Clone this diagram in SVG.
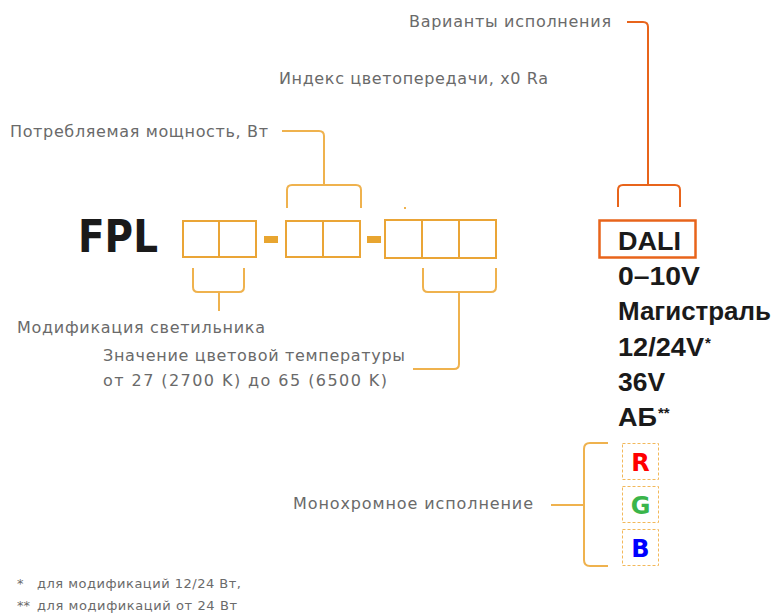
<svg xmlns="http://www.w3.org/2000/svg" width="776" height="613" viewBox="0 0 776 613">
<style>
.lbl{font-family:"DejaVu Sans","Liberation Sans",sans-serif;font-size:16px;fill:#6a6a6a;}
.foot{font-family:"DejaVu Sans","Liberation Sans",sans-serif;font-size:13px;fill:#6a6a6a;}
.big{font-family:"Liberation Sans","DejaVu Sans",sans-serif;font-weight:bold;font-size:25px;fill:#1a1a1a;}
.sup{font-size:15px;}
.rgb{font-family:"DejaVu Sans","Liberation Sans",sans-serif;font-weight:bold;font-size:24px;}
.cell{fill:#fff;stroke:#eaa536;stroke-width:2;}
.cn{fill:none;stroke:#efb24e;stroke-width:2;}
.cr{fill:none;stroke:#e8641b;stroke-width:2;}
.dash{fill:none;stroke:#f2b85a;stroke-width:1;stroke-dasharray:3 2;}
</style>
<rect width="776" height="613" fill="#fff"/>
<g id="title"><text x="78" y="252" font-family="DejaVu Sans, Liberation Sans, sans-serif" font-weight="bold" font-size="44" fill="#1a1a1a" textLength="80" lengthAdjust="spacingAndGlyphs">FPL</text></g>
<g id="group1">
<rect class="cell" x="183" y="221" width="36" height="36"/>
<rect class="cell" x="219" y="221" width="37" height="36"/>
</g>
<rect x="264" y="236" width="14" height="7" fill="#e8a530"/>
<g id="group2">
<rect class="cell" x="286" y="221" width="37" height="36"/>
<rect class="cell" x="323" y="221" width="37" height="36"/>
</g>
<rect x="367" y="236" width="14" height="7" fill="#e8a530"/>
<g id="group3">
<rect class="cell" x="385" y="220" width="37" height="38" stroke-width="2.5"/>
<rect class="cell" x="422" y="220" width="37" height="38" stroke-width="2.5"/>
<rect class="cell" x="459" y="220" width="37" height="38" stroke-width="2.5"/>
</g>
<rect x="404" y="207" width="2" height="2" fill="#efb24e"/>
<g id="connectors">
<path class="cn" d="M282,131 H319 Q324,131 324,136 V185"/>
<path class="cn" d="M287,208 V190 Q287,185 292,185 H356 Q361,185 361,190 V208"/>
<path class="cn" d="M193,268 V287 Q193,292 198,292 H239 Q244,292 244,287 V268"/>
<path class="cn" d="M219,292 V311"/>
<path class="cn" d="M423,268 V287 Q423,292 428,292 H491 Q496,292 496,287 V268"/>
<path class="cn" d="M459,292 V364 Q459,369 454,369 H413"/>
<path class="cr" d="M627,22 H643 Q648,22 648,27 V185"/>
<path class="cr" d="M618,207 V190 Q618,185 623,185 H675 Q680,185 680,190 V207"/>
<path class="cn" d="M608,443 H590 Q584,443 584,449 V560 Q584,566 590,566 H608"/>
<path class="cn" d="M584,505 H551"/>
</g>
<g id="labels">
<text class="lbl" x="409" y="27" textLength="202">Варианты исполнения</text>
<text class="lbl" x="279" y="84" textLength="269">Индекс цветопередачи, x0 Ra</text>
<text class="lbl" x="10" y="137" textLength="258">Потребляемая мощность, Вт</text>
<text class="lbl" x="17" y="333" textLength="248">Модификация светильника</text>
<text class="lbl" x="103" y="361" textLength="302">Значение цветовой температуры</text>
<text class="lbl" x="103" y="386" textLength="284">от 27 (2700 K) до 65 (6500 K)</text>
<text class="lbl" x="293" y="509" textLength="240">Монохромное исполнение</text>
</g>
<g id="variants">
<rect x="599.5" y="220.5" width="96" height="37" fill="none" stroke="#e8641b" stroke-width="2.5"/>
<text class="big" x="618" y="250" textLength="63" lengthAdjust="spacingAndGlyphs">DALI</text>
<text class="big" x="618" y="285" textLength="82" lengthAdjust="spacingAndGlyphs">0–10V</text>
<text class="big" x="618" y="320" textLength="153" lengthAdjust="spacingAndGlyphs">Магистраль</text>
<text class="big" x="618" y="356"><tspan textLength="86" lengthAdjust="spacingAndGlyphs">12/24V</tspan><tspan class="sup" dx="1" dy="-8">*</tspan></text>
<text class="big" x="618" y="391" textLength="47" lengthAdjust="spacingAndGlyphs">36V</text>
<text class="big" x="618" y="426"><tspan textLength="39" lengthAdjust="spacingAndGlyphs">АБ</tspan><tspan class="sup" dx="1" dy="-8">**</tspan></text>
</g>
<g id="mono">
<rect class="dash" x="622.5" y="443.5" width="36" height="36"/>
<text class="rgb" x="640.5" y="471" text-anchor="middle" fill="#ff0000">R</text>
<rect class="dash" x="622.5" y="486.5" width="36" height="36"/>
<text class="rgb" x="640.5" y="514" text-anchor="middle" fill="#3ab54a">G</text>
<rect class="dash" x="622.5" y="529.5" width="36" height="36"/>
<text class="rgb" x="640.5" y="557" text-anchor="middle" fill="#0000ff">B</text>
</g>
<g id="footnotes">
<text class="foot" x="17" y="588">*</text>
<text class="foot" x="37" y="588" textLength="204">для модификаций 12/24 Вт,</text>
<text class="foot" x="17" y="610">**</text>
<text class="foot" x="37" y="610" textLength="200">для модификаций от 24 Вт</text>
</g>
</svg>
